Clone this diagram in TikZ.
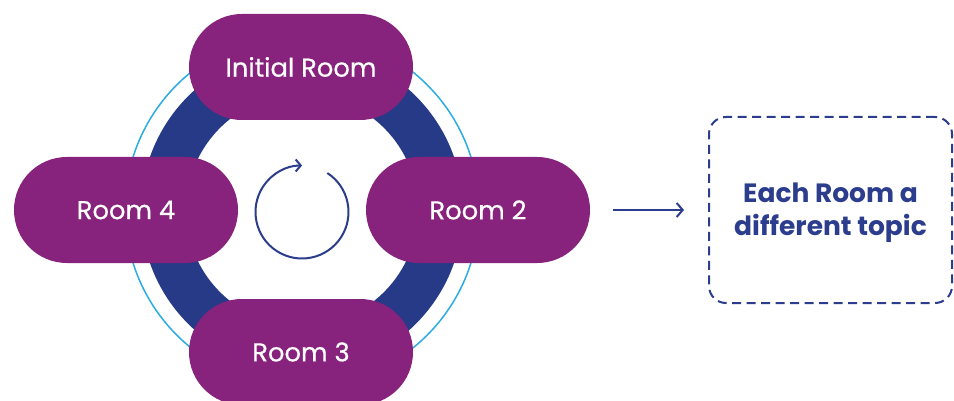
\documentclass[tikz,border=0pt]{standalone}
\usepackage{fontspec}
\setmainfont{Poppins}
\usetikzlibrary{arrows.meta}

\definecolor{roomPurple}{HTML}{87227D}
\definecolor{ringBlue}{HTML}{263A87}
\definecolor{skyLine}{HTML}{2BACE2}
\definecolor{textBlue}{HTML}{2B3D8C}

\begin{document}
\begin{tikzpicture}[x=1pt,y=-1pt,
  room/.style={fill=roomPurple, rounded corners=52.9pt,
    minimum width=224pt, minimum height=106pt, inner sep=0pt,
    text=white, font=\fontsize{25.8}{30}\selectfont\addfontfeature{FakeBold=0.5}},
  topicbox/.style={draw=textBlue, line width=2pt, rounded corners=17pt,
    dash pattern=on 9pt off 5.5pt, minimum width=243pt, minimum height=186pt},
  topictext/.style={align=center, text=textBlue, inner sep=0pt,
    font=\fontsize{26.5}{33}\selectfont\bfseries},
  flow/.style={draw=textBlue, line width=2pt,
    -{Straight Barb[length=6pt,width=14pt,line width=2pt]}},
]
\useasboundingbox (0,0) rectangle (954,401);

% outer guide circle and the thick loop behind the rooms
\draw[skyLine, line width=1.5pt] (302,210) circle[radius=177];
\draw[ringBlue, line width=45pt] (302,210) circle[radius=138.5];

% rooms
\node[room] (initial) at (301,67)  {Initial Room};
\node[room] (room4)   at (126,210) {Room 4};
\node[room] (room2)   at (478,210) {Room 2};
\node[room] (room3)   at (301,352) {Room 3};

% rotation sign in the middle of the loop
\coordinate (hub) at (302,212);
\draw[textBlue, line width=2pt, -{Straight Barb[length=5pt,width=12pt,line width=2pt]}]
  (hub) ++(-57:46.5) arc[start angle=-57, end angle=270, radius=46.5];

% topic box, its caption and the arrow leading to it
\node[topicbox] (topic) at (830.5,210) {};
\node[topictext] (topiclabel) at ([yshift=-3pt]topic.center) {Each Room a\\different topic};
\draw[flow, shorten <=23pt, shorten >=24pt] (room2.east) -- (topic.west);
\end{tikzpicture}
\end{document}
